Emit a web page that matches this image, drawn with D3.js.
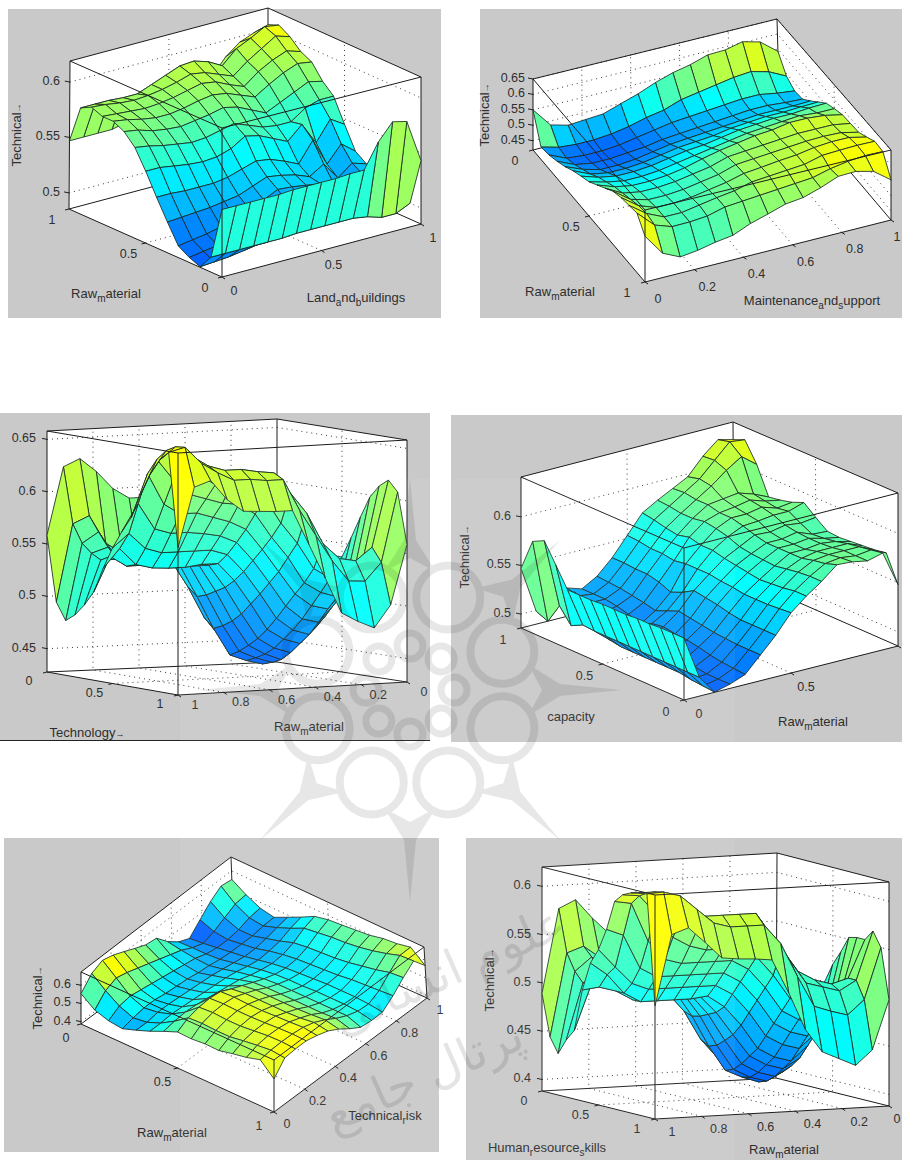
<!DOCTYPE html>
<html>
<head>
<meta charset="utf-8">
<script src="https://cdn.jsdelivr.net/npm/d3@7"></script>
<style>
  html, body { margin: 0; padding: 0; background: #fff; }
  svg { display: block; }
  text { font-family: "Liberation Sans", Arial, sans-serif; fill: #2e2e2e; }
</style>
</head>
<body>
<div id="chart"></div>
<script>
// Grid positions shared by all six surfaces (15 x 15 samples)
const gridValues = d3.range(15).map(i => i / 14);

// Tick values
const ticksHalf = [0, 0.5, 1];
const ticksFifth = [0, 0.2, 0.4, 0.6, 0.8, 1];
const zTicksLand = [0.5, 0.55, 0.6];
const zTicksMaintenance = [0.45, 0.5, 0.55, 0.6, 0.65];
const zTicksTechnology = [0.45, 0.5, 0.55, 0.6, 0.65];
const zTicksCapacity = [0.5, 0.55, 0.6];
const zTicksRisk = [0.4, 0.5, 0.6];
const zTicksHuman = [0.4, 0.45, 0.5, 0.55, 0.6];

// Surface heights. Row = y axis sample, column = x axis sample
const landZ = [
  [.546,.546,.546,.546,.546,.547,.547,.547,.547,.548,.548,.570,.585,.582,.543],
  [.499,.499,.499,.499,.499,.499,.500,.500,.500,.500,.500,.498,.494,.494,.500],
  [.486,.487,.488,.490,.492,.494,.497,.500,.500,.498,.498,.497,.515,.525,.527],
  [.490,.492,.494,.497,.500,.503,.508,.512,.512,.510,.510,.505,.500,.515,.520],
  [.496,.498,.500,.503,.507,.512,.517,.523,.522,.520,.518,.513,.508,.516,.517],
  [.513,.514,.515,.516,.518,.520,.525,.530,.528,.525,.520,.528,.512,.522,.518],
  [.531,.531,.530,.530,.530,.532,.536,.540,.538,.533,.527,.545,.520,.535,.525],
  [.550,.550,.548,.546,.545,.546,.550,.558,.555,.549,.543,.555,.535,.553,.545],
  [.567,.565,.562,.560,.558,.559,.562,.565,.560,.555,.553,.553,.562,.566,.566],
  [.577,.575,.571,.569,.568,.570,.572,.575,.572,.566,.560,.566,.572,.578,.575],
  [.582,.580,.577,.575,.575,.577,.580,.582,.580,.575,.570,.578,.585,.590,.588],
  [.582,.581,.580,.579,.580,.582,.585,.588,.586,.580,.575,.585,.592,.597,.593],
  [.586,.585,.583,.582,.583,.585,.588,.592,.590,.585,.580,.590,.598,.606,.602],
  [.581,.581,.581,.580,.580,.585,.590,.595,.596,.592,.585,.597,.603,.610,.608],
  [.547,.547,.547,.547,.550,.560,.570,.580,.585,.575,.570,.585,.595,.600,.604]
];

const maintenanceZ = [
  [.550,.487,.472,.476,.480,.499,.517,.540,.558,.570,.588,.590,.603,.588,.542],
  [.460,.445,.440,.440,.445,.455,.470,.480,.500,.510,.520,.530,.535,.520,.491],
  [.465,.440,.435,.435,.440,.450,.460,.470,.475,.480,.485,.490,.490,.480,.473],
  [.475,.450,.440,.440,.445,.450,.460,.465,.470,.475,.480,.485,.485,.480,.477],
  [.488,.465,.450,.450,.455,.465,.475,.480,.485,.490,.495,.500,.500,.500,.502],
  [.505,.480,.470,.470,.475,.485,.495,.500,.505,.515,.520,.525,.525,.528,.530],
  [.518,.500,.490,.490,.495,.505,.515,.520,.530,.540,.545,.550,.550,.555,.557],
  [.530,.515,.505,.505,.510,.520,.530,.540,.550,.560,.565,.570,.575,.570,.570],
  [.550,.530,.520,.520,.525,.535,.550,.563,.573,.583,.588,.598,.598,.593,.581],
  [.570,.540,.530,.530,.535,.545,.555,.573,.578,.583,.588,.593,.593,.593,.583],
  [.590,.550,.535,.535,.540,.550,.560,.578,.583,.588,.593,.598,.600,.598,.585],
  [.600,.560,.540,.540,.545,.555,.565,.580,.586,.593,.598,.608,.613,.613,.600],
  [.605,.565,.540,.540,.550,.560,.568,.583,.588,.593,.598,.613,.616,.618,.617],
  [.610,.558,.539,.540,.545,.560,.565,.570,.575,.580,.585,.600,.610,.615,.614],
  [.566,.498,.472,.479,.491,.499,.523,.540,.558,.565,.583,.606,.608,.594,.552]
];

const technologyZ = [
  [.5585,.500,.480,.490,.500,.515,.550,.585,.590,.590,.600,.617,.630,.623,.5585],
  [.540,.460,.440,.445,.455,.475,.505,.530,.535,.535,.540,.550,.577,.570,.496],
  [.525,.440,.430,.434,.440,.466,.497,.526,.535,.535,.535,.540,.563,.553,.480],
  [.520,.445,.433,.438,.445,.470,.500,.528,.535,.535,.535,.538,.550,.545,.487],
  [.520,.450,.437,.443,.452,.476,.505,.530,.535,.535,.535,.536,.540,.540,.498],
  [.525,.460,.445,.450,.460,.484,.510,.532,.535,.535,.535,.535,.535,.545,.512],
  [.537,.470,.455,.460,.470,.495,.518,.535,.535,.533,.533,.534,.538,.554,.536],
  [.537,.482,.465,.470,.482,.506,.528,.545,.550,.550,.550,.550,.555,.570,.557],
  [.557,.495,.478,.482,.495,.518,.540,.558,.565,.568,.570,.570,.575,.600,.574],
  [.578,.510,.492,.496,.508,.530,.552,.572,.580,.585,.590,.590,.600,.630,.589],
  [.598,.525,.505,.510,.520,.545,.565,.588,.598,.600,.605,.610,.625,.645,.612],
  [.610,.540,.520,.525,.535,.560,.580,.605,.615,.620,.620,.630,.640,.655,.633],
  [.617,.554,.542,.545,.560,.590,.610,.630,.632,.635,.635,.640,.650,.660,.648],
  [.607,.541,.524,.525,.545,.570,.595,.625,.625,.627,.627,.635,.645,.661,.657],
  [.5585,.502,.481,.488,.497,.531,.564,.597,.597,.598,.599,.611,.630,.6245,.568]
];

const capacityZ = [
  [.549,.505,.486,.490,.496,.512,.528,.547,.560,.571,.584,.583,.580,.584,.548],
  [.549,.505,.487,.490,.497,.512,.528,.546,.560,.571,.580,.582,.580,.582,.575],
  [.549,.505,.488,.490,.498,.512,.528,.545,.558,.570,.578,.580,.580,.580,.573],
  [.548,.505,.490,.492,.500,.513,.528,.545,.557,.568,.575,.578,.578,.578,.572],
  [.548,.505,.490,.493,.503,.514,.530,.545,.556,.566,.575,.575,.577,.575,.571],
  [.547,.505,.490,.494,.505,.516,.533,.547,.558,.567,.575,.575,.577,.573,.570],
  [.547,.505,.490,.496,.506,.518,.535,.548,.560,.568,.575,.575,.578,.572,.571],
  [.547,.505,.490,.497,.508,.520,.537,.550,.562,.570,.578,.577,.580,.578,.580],
  [.546,.505,.490,.497,.506,.515,.530,.550,.565,.575,.582,.583,.585,.585,.590],
  [.546,.505,.492,.498,.500,.510,.525,.550,.565,.578,.585,.585,.588,.583,.585],
  [.546,.506,.497,.500,.505,.513,.530,.548,.568,.580,.585,.587,.590,.585,.582],
  [.566,.500,.510,.505,.508,.515,.533,.550,.565,.578,.588,.590,.592,.587,.580],
  [.586,.515,.525,.510,.510,.517,.533,.550,.567,.578,.588,.598,.610,.620,.608],
  [.580,.494,.520,.512,.510,.518,.534,.552,.570,.580,.590,.600,.615,.630,.628],
  [.547,.499,.522,.515,.510,.519,.534,.553,.572,.581,.589,.597,.614,.627,.623]
];

const riskZ = [
  [.554,.620,.647,.631,.605,.578,.553,.545,.483,.438,.413,.469,.523,.562,.554],
  [.498,.560,.585,.570,.550,.530,.510,.490,.470,.440,.420,.440,.470,.500,.507],
  [.474,.510,.520,.510,.500,.490,.480,.470,.460,.440,.430,.430,.440,.460,.469],
  [.465,.480,.490,.490,.480,.475,.470,.460,.455,.445,.440,.440,.440,.450,.453],
  [.491,.490,.500,.500,.495,.490,.485,.480,.470,.460,.450,.450,.460,.475,.487],
  [.520,.520,.525,.520,.515,.510,.505,.500,.490,.475,.465,.470,.480,.505,.522],
  [.554,.565,.570,.565,.555,.545,.535,.525,.505,.490,.480,.485,.505,.540,.560],
  [.585,.618,.632,.636,.628,.598,.572,.545,.520,.500,.490,.495,.515,.550,.576],
  [.582,.622,.637,.640,.632,.608,.582,.550,.525,.505,.495,.500,.520,.560,.582],
  [.589,.618,.632,.637,.628,.608,.582,.550,.525,.505,.500,.505,.525,.565,.589],
  [.587,.618,.632,.637,.628,.608,.582,.550,.525,.510,.505,.510,.535,.575,.596],
  [.604,.630,.640,.640,.632,.608,.582,.550,.525,.510,.505,.520,.550,.590,.613],
  [.618,.640,.648,.645,.635,.612,.586,.550,.525,.510,.505,.525,.565,.610,.620],
  [.640,.648,.650,.648,.640,.622,.592,.555,.525,.505,.500,.530,.585,.635,.636],
  [.569,.640,.645,.645,.630,.610,.576,.533,.496,.489,.490,.536,.592,.640,.569]
];

const humanZ = [
  [.500,.470,.455,.460,.470,.490,.520,.540,.545,.545,.547,.564,.584,.576,.489],
  [.460,.410,.400,.405,.415,.435,.465,.485,.490,.490,.500,.525,.538,.532,.446],
  [.414,.396,.390,.396,.404,.430,.462,.488,.490,.490,.490,.515,.529,.515,.431],
  [.440,.402,.393,.398,.407,.433,.464,.488,.490,.490,.490,.500,.515,.505,.447],
  [.470,.410,.400,.405,.415,.440,.468,.488,.490,.490,.490,.495,.505,.505,.459],
  [.490,.420,.410,.415,.425,.448,.472,.490,.490,.490,.490,.490,.500,.505,.503],
  [.500,.435,.420,.425,.435,.460,.480,.492,.490,.490,.490,.490,.500,.520,.533],
  [.520,.450,.435,.440,.450,.475,.495,.505,.505,.505,.505,.505,.512,.530,.549],
  [.535,.465,.450,.455,.465,.490,.510,.520,.520,.520,.520,.520,.530,.565,.572],
  [.552,.480,.465,.470,.480,.505,.525,.535,.535,.535,.535,.540,.560,.600,.603],
  [.554,.495,.480,.485,.495,.520,.540,.550,.550,.550,.555,.565,.590,.610,.612],
  [.554,.515,.510,.515,.525,.550,.565,.575,.575,.575,.575,.585,.605,.615,.616],
  [.565,.515,.505,.510,.515,.540,.565,.590,.590,.590,.590,.598,.610,.618,.618],
  [.550,.497,.482,.487,.493,.525,.560,.580,.580,.580,.585,.600,.615,.620,.619],
  [.498,.447,.432,.440,.448,.472,.511,.546,.548,.549,.551,.568,.584,.578,.505]
];

// Surface colours: low = blue, middle = cyan, high = yellow
const colorStops = [0, 0.41, 1];
const colorRange = ["#0064ff", "#00ffff", "#ffff00"];

const svg = d3.select("#chart").append("svg")
    .attr("width", 902)
    .attr("height", 1160);

svg.append("defs").append("filter").attr("id", "soft")
    .append("feGaussianBlur").attr("stdDeviation", 0.35);

// Gray image backgrounds behind the plots
const backgrounds = [
  { x: 8, y: 9, w: 433, h: 309 },
  { x: 480, y: 9, w: 422, h: 309 },
  { x: 0, y: 413, w: 430, h: 327 },
  { x: 451, y: 415, w: 451, h: 327 },
  { x: 4, y: 838, w: 435, h: 314 },
  { x: 466, y: 838, w: 436, h: 322 }
];
svg.selectAll(".bg").data(backgrounds).enter().append("rect")
    .attr("class", "bg")
    .attr("x", d => d.x).attr("y", d => d.y)
    .attr("width", d => d.w).attr("height", d => d.h)
    .attr("fill", "#c9c9c9");

svg.append("line")
    .attr("x1", 0).attr("x2", 430).attr("y1", 740.5).attr("y2", 740.5)
    .attr("stroke", "#222").attr("stroke-width", 1.2);

// One entry per plot. floor and top are the pixel corners of the 3D box,
// named by which end of the x and y axes they sit on
const panels = [
  {
    z: landZ, zDomain: [0.4855, 0.619], zTicks: zTicksLand,
    floor: { x0y0: [222, 277], x1y0: [421, 224], x0y1: [69, 209], x1y1: [268, 156] },
    top: { x0y0: [222, 128], x1y0: [421, 77], x0y1: [70, 61], x1y1: [268, 8] },
    farX: 1, farY: 1, xTicks: ticksHalf, yTicks: ticksHalf,
    xEdgeY: 0, yEdgeX: 0, zEdge: [0, 1], xOff: [12, 14], yOff: [-17, 11], zLabelX: 60,
    labels: [
      { parts: [["Raw"], ["m", 1], ["aterial"]], x: 106, y: 298 },
      { parts: [["Land"], ["a", 1], ["nd"], ["b", 1], ["uildings"]], x: 356, y: 302 },
      { parts: [["Technical"], ["→", 2]], x: 21, y: 135, rotate: true }
    ]
  },
  {
    z: maintenanceZ, zDomain: [0.42, 0.65], zTicks: zTicksMaintenance,
    floor: { x0y0: [533, 150], x1y0: [779, 88], x0y1: [645, 282], x1y1: [891, 220] },
    top: { x0y0: [533, 79], x1y0: [777, 19], x0y1: [645, 210], x1y1: [891, 150] },
    farX: 1, farY: 0, xTicks: ticksFifth, yTicks: ticksHalf,
    xEdgeY: 1, yEdgeX: 0, zEdge: [0, 0], xOff: [13, 17], yOff: [-18, 11], zLabelX: 525,
    xLabelOff: { 1: [6, 17] },
    labels: [
      { parts: [["Raw"], ["m", 1], ["aterial"]], x: 560, y: 296 },
      { parts: [["Maintenance"], ["a", 1], ["nd"], ["s", 1], ["upport"]], x: 812, y: 305 },
      { parts: [["Technical"], ["→", 2]], x: 489, y: 115, rotate: true }
    ]
  },
  {
    z: technologyZ, zDomain: [0.4277, 0.658], zTicks: zTicksTechnology,
    floor: { x0y0: [277, 662], x1y0: [47, 672], x0y1: [407, 682], x1y1: [178, 695] },
    top: { x0y0: [277, 419], x1y0: [47, 431], x0y1: [407, 440], x1y1: [178, 453] },
    farX: 0, farY: 0, xTicks: ticksFifth, yTicks: ticksHalf,
    xEdgeY: 1, yEdgeX: 1, zEdge: [1, 0], xOff: [17, 10], yOff: [-18, 9], zLabelX: 36,
    labels: [
      { parts: [["Technology"], ["→", 2]], x: 87, y: 737 },
      { parts: [["Raw"], ["m", 1], ["aterial"]], x: 309, y: 731 }
    ]
  },
  {
    z: capacityZ, zDomain: [0.4857, 0.641], zTicks: zTicksCapacity,
    floor: { x0y0: [684, 700], x1y0: [898, 646], x0y1: [521, 628], x1y1: [734, 574] },
    top: { x0y0: [684, 548], x1y0: [898, 493], x0y1: [521, 477], x1y1: [733, 422] },
    farX: 1, farY: 1, xTicks: ticksHalf, yTicks: ticksHalf,
    xEdgeY: 0, yEdgeX: 0, zEdge: [0, 1], xOff: [15, 14], yOff: [-18, 12], zLabelX: 511,
    xLabelSkip: [1],
    labels: [
      { parts: [["capacity"]], x: 571, y: 721 },
      { parts: [["Raw"], ["m", 1], ["aterial"]], x: 813, y: 726 },
      { parts: [["Technical"], ["→", 2]], x: 469, y: 557, rotate: true }
    ]
  },
  {
    z: riskZ, zDomain: [0.387, 0.673], zTicks: zTicksRisk,
    floor: { x0y0: [81, 1024], x1y0: [233, 911], x0y1: [274, 1112], x1y1: [427, 998] },
    top: { x0y0: [81, 972], x1y0: [231, 857], x0y1: [274, 1060], x1y1: [424, 947] },
    farX: 1, farY: 0, xTicks: ticksFifth, yTicks: ticksHalf,
    xEdgeY: 1, yEdgeX: 0, zEdge: [0, 0], xOff: [13, 12], yOff: [-15, 14], zLabelX: 71,
    labels: [
      { parts: [["Raw"], ["m", 1], ["aterial"]], x: 172, y: 1137 },
      { parts: [["Technical"], ["r", 1], ["isk"]], x: 385, y: 1120 },
      { parts: [["Technical"], ["→", 2]], x: 42, y: 998, rotate: true }
    ]
  },
  {
    z: humanZ, zDomain: [0.388, 0.62], zTicks: zTicksHuman,
    floor: { x0y0: [776, 1078], x1y0: [542, 1091], x0y1: [889, 1106], x1y1: [655, 1119] },
    top: { x0y0: [777, 853], x1y0: [542, 867], x0y1: [889, 882], x1y1: [655, 895] },
    farX: 0, farY: 0, xTicks: ticksFifth, yTicks: ticksHalf,
    xEdgeY: 1, yEdgeX: 1, zEdge: [1, 0], xOff: [17, 13], yOff: [-18, 10], zLabelX: 531,
    xLabelOff: { 0: [8, 13] },
    labels: [
      { parts: [["Human"], ["r", 1], ["esource"], ["s", 1], ["kills"]], x: 547, y: 1152 },
      { parts: [["Raw"], ["m", 1], ["aterial"]], x: 784, y: 1154 },
      { parts: [["Technical"], ["→", 2]], x: 494, y: 980, rotate: true }
    ]
  }
];

panels.forEach(drawPanel);
drawWatermark();

function drawPanel(p) {
  const g = svg.append("g").attr("filter", "url(#soft)");
  const xScale = d3.scaleLinear().domain([0, 1]).range([0, 1]);
  const yScale = d3.scaleLinear().domain([0, 1]).range([0, 1]);
  const zScale = d3.scaleLinear().domain(p.zDomain).range([0, 1]);

  // Blend the eight box corners to place a data point on the page
  function project(x, y, z) {
    const u = xScale(x), v = yScale(y), w = zScale(z);
    const blend = c => d3.range(2).map(k =>
      (1 - u) * (1 - v) * c.x0y0[k] + u * (1 - v) * c.x1y0[k] +
      (1 - u) * v * c.x0y1[k] + u * v * c.x1y1[k]);
    const a = blend(p.floor), b = blend(p.top);
    return [a[0] + (b[0] - a[0]) * w, a[1] + (b[1] - a[1]) * w];
  }

  const [z0, z1] = p.zDomain;
  const nearX = p.farX ? 0 : 1, nearY = p.farY ? 0 : 1;
  const line = d3.line();
  const poly = pts => line(pts) + "Z";

  // White walls of the box
  g.append("path")
      .attr("d", poly([
        project(nearX, nearY, z0), project(p.farX, nearY, z0), project(p.farX, nearY, z1),
        project(p.farX, p.farY, z1), project(nearX, p.farY, z1), project(nearX, p.farY, z0)
      ]))
      .attr("fill", "#fff");

  // Dotted grid on floor and back walls
  const dotted = pts => g.append("path").attr("d", line(pts)).attr("fill", "none")
      .attr("stroke", "#222").attr("stroke-width", 0.9).attr("stroke-dasharray", "1 4");
  p.xTicks.filter(t => t > 0 && t < 1).forEach(t =>
    dotted([project(t, nearY, z0), project(t, p.farY, z0), project(t, p.farY, z1)]));
  p.yTicks.filter(t => t > 0 && t < 1).forEach(t =>
    dotted([project(nearX, t, z0), project(p.farX, t, z0), project(p.farX, t, z1)]));
  p.zTicks.forEach(t =>
    dotted([project(nearX, p.farY, t), project(p.farX, p.farY, t), project(p.farX, nearY, t)]));

  // Box edges behind the surface
  const edge = (a, b) => g.append("path").attr("d", line([a, b]))
      .attr("fill", "none").attr("stroke", "#1c1c1c").attr("stroke-width", 1);
  edge(project(p.farX, p.farY, z0), project(p.farX, p.farY, z1));
  edge(project(p.farX, p.farY, z0), project(nearX, p.farY, z0));
  edge(project(p.farX, p.farY, z0), project(p.farX, nearY, z0));
  edge(project(p.farX, p.farY, z1), project(nearX, p.farY, z1));
  edge(project(p.farX, p.farY, z1), project(p.farX, nearY, z1));
  edge(project(nearX, p.farY, z0), project(nearX, p.farY, z1));
  edge(project(p.farX, nearY, z0), project(p.farX, nearY, z1));

  // Surface cells, far ones first so the near ones cover them
  const allZ = p.z.flat();
  const color = d3.scaleLinear()
      .domain(colorStops.map(s => d3.min(allZ) + s * (d3.max(allZ) - d3.min(allZ))))
      .range(colorRange);

  const cols = d3.range(14), rows = d3.range(14);
  const colOrder = p.farX ? cols.slice().reverse() : cols;
  const rowOrder = p.farY ? rows.slice().reverse() : rows;
  const cells = [];
  rowOrder.forEach(j => colOrder.forEach(i => cells.push({ i, j })));

  g.selectAll(".cell").data(cells).enter().append("path")
      .attr("class", "cell")
      .attr("d", d => poly([
        project(gridValues[d.i], gridValues[d.j], p.z[d.j][d.i]),
        project(gridValues[d.i + 1], gridValues[d.j], p.z[d.j][d.i + 1]),
        project(gridValues[d.i + 1], gridValues[d.j + 1], p.z[d.j + 1][d.i + 1]),
        project(gridValues[d.i], gridValues[d.j + 1], p.z[d.j + 1][d.i])
      ]))
      // a cell takes the colour of its first corner
      .attr("fill", d => color(p.z[d.j][d.i]))
      .attr("stroke", "#1a2a22")
      .attr("stroke-width", 0.85)
      .attr("stroke-linejoin", "round");

  // Box edges in front of the surface
  edge(project(nearX, nearY, z0), project(nearX, nearY, z1));
  edge(project(nearX, nearY, z0), project(p.farX, nearY, z0));
  edge(project(nearX, nearY, z0), project(nearX, p.farY, z0));
  edge(project(nearX, nearY, z1), project(p.farX, nearY, z1));
  edge(project(nearX, nearY, z1), project(nearX, p.farY, z1));

  // Ticks and tick labels
  const tickText = (x, y, anchor, value) => svg.append("text")
      .attr("x", x).attr("y", y)
      .attr("text-anchor", anchor).attr("font-size", 12.5).text(String(value));

  p.xTicks.forEach(t => {
    const a = project(t, p.xEdgeY, z0);
    edge(a, [a[0] + 3, a[1] + 2]);
    if ((p.xLabelSkip || []).includes(t)) return;
    const off = (p.xLabelOff && p.xLabelOff[t]) || p.xOff;
    tickText(a[0] + off[0], a[1] + off[1] + 4, "middle", t);
  });
  p.yTicks.forEach(t => {
    const a = project(p.yEdgeX, t, z0);
    edge(a, [a[0] - 4, a[1] + 1]);
    tickText(a[0] + p.yOff[0], a[1] + p.yOff[1] + 4, "middle", t);
  });
  p.zTicks.forEach(t => {
    const a = project(p.zEdge[0], p.zEdge[1], t);
    edge(a, [a[0] - 5, a[1] - 1]);
    tickText(p.zLabelX, a[1] + 3, "end", t);
  });

  // Axis titles; level 1 parts are subscripts, level 2 is the small arrow
  p.labels.forEach(l => {
    const t = svg.append("text")
        .attr("text-anchor", "middle").attr("font-size", 13)
        .attr("transform", l.rotate ? `translate(${l.x},${l.y}) rotate(-90)` : `translate(${l.x},${l.y})`);
    let lowered = false;
    l.parts.forEach(part => {
      const span = t.append("tspan").text(part[0]);
      if (part[1] === 1) {
        span.attr("font-size", 10).attr("dy", 4);
        lowered = true;
      } else if (part[1] === 2) {
        span.attr("font-size", 9);
      } else if (lowered) {
        span.attr("dy", -4);
        lowered = false;
      }
    });
  });
}

// Faint publisher mark printed across the page
function drawWatermark() {
  const ink = "#000";
  const cx = 410, cy = 690;

  svg.append("rect")
      .attr("x", 180).attr("y", 479).attr("width", 555).attr("height", 681)
      .attr("fill", "#fff").attr("opacity", 0.06);

  const mark = svg.append("g").attr("opacity", 0.09);
  const angles = d3.range(8).map(k => k * Math.PI / 4);

  // ring of lobes
  mark.selectAll(".lobe").data(angles).enter().append("circle")
      .attr("class", "lobe")
      .attr("cx", a => cx + 100 * Math.sin(a + Math.PI / 8))
      .attr("cy", a => cy - 100 * Math.cos(a + Math.PI / 8))
      .attr("r", 32)
      .attr("fill", "none").attr("stroke", ink).attr("stroke-width", 8);

  // smaller lobes near the middle
  mark.selectAll(".inner").data(angles).enter().append("circle")
      .attr("class", "inner")
      .attr("cx", a => cx + 44 * Math.sin(a))
      .attr("cy", a => cy - 44 * Math.cos(a))
      .attr("r", 13)
      .attr("fill", "none").attr("stroke", ink).attr("stroke-width", 7);

  // long thin spikes
  const spike = d3.line();
  mark.selectAll(".spike").data(angles).enter().append("path")
      .attr("class", "spike")
      .attr("d", a => {
        const at = (r, w) => [
          cx + r * Math.sin(a) + w * Math.cos(a),
          cy - r * Math.cos(a) + w * Math.sin(a)
        ];
        return spike([at(118, -26), at(150, -6), at(212, 0), at(150, 6), at(118, 26), at(132, 0)]) + "Z";
      })
      .attr("fill", ink);

  // Persian lines of the mark
  svg.append("text")
      .attr("transform", "translate(455,985) rotate(-24)")
      .attr("text-anchor", "middle").attr("font-size", 48)
      .attr("font-family", "DejaVu Sans")
      .style("fill", ink).attr("opacity", 0.1)
      .text("علوم انسانی");
  svg.append("text")
      .attr("transform", "translate(430,1090) rotate(-24)")
      .attr("text-anchor", "middle").attr("font-size", 48)
      .attr("font-family", "DejaVu Sans")
      .style("fill", ink).attr("opacity", 0.1)
      .text("پرتال جامع");
}
</script>
</body>
</html>
